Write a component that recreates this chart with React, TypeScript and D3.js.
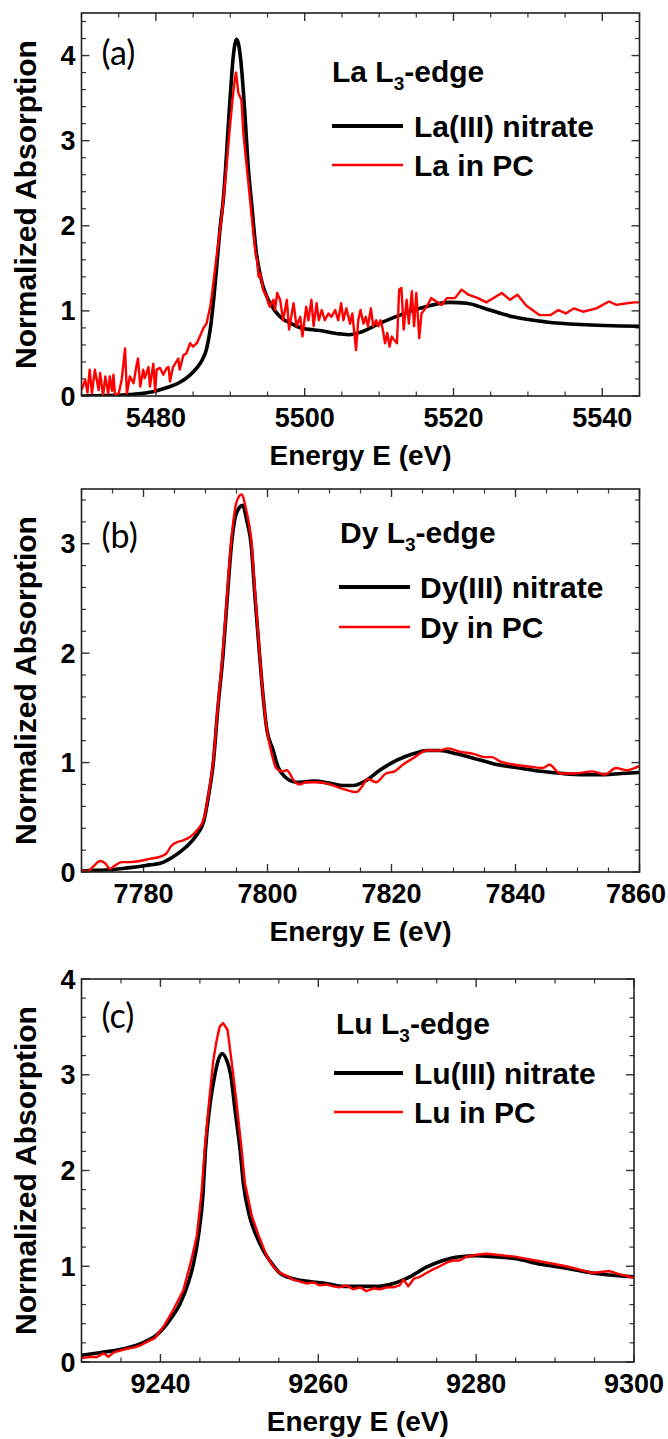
import * as d3 from "d3";

type Pt = [number, number];

// energies (eV) and normalized absorption
const laNitrate: Pt[] = [
  [5470, 0.0], [5473, 0.005], [5476, 0.015], [5478, 0.03], [5480, 0.06], [5481.5, 0.1], [5483, 0.15],
  [5484.5, 0.24], [5485.5, 0.33], [5486.2, 0.42], [5486.8, 0.55], [5487.3, 0.78], [5487.7, 1.08],
  [5488.2, 1.55], [5488.6, 1.95], [5489.06, 2.31], [5489.96, 3.48], [5490.4, 3.99], [5490.86, 4.19],
  [5491.4, 3.95], [5491.98, 3.29], [5492.4, 2.7], [5492.9, 2.23], [5493.45, 1.72], [5494.3, 1.32],
  [5495, 1.15], [5496, 1.0], [5497, 0.91], [5498, 0.86], [5499.5, 0.8], [5502, 0.77], [5504.7, 0.73],
  [5506, 0.72], [5507.5, 0.75], [5510, 0.85], [5512.8, 0.95], [5515.5, 1.03], [5519.5, 1.1],
  [5521.8, 1.09], [5524.5, 1.02], [5528, 0.93], [5532.5, 0.87], [5537, 0.84], [5545, 0.82],
];

const laPC: Pt[] = [
  [5470.0, 0.07], [5470.5, 0.19], [5470.8, 0.04], [5471.1, 0.31], [5471.4, 0.03], [5471.8, 0.31],
  [5472.3, 0.07], [5472.5, 0.27], [5472.9, 0.0], [5473.2, 0.23], [5473.6, 0.03], [5473.8, 0.23],
  [5474.1, 0.06], [5474.3, 0.25], [5474.5, 0.01], [5475.0, 0.03], [5475.4, 0.19], [5475.85, 0.56],
  [5476.1, 0.03], [5476.5, 0.23], [5477.0, 0.15], [5477.4, 0.36], [5477.6, 0.44], [5477.9, 0.11],
  [5478.3, 0.31], [5478.5, 0.21], [5479.0, 0.34], [5479.2, 0.11], [5479.65, 0.38], [5479.9, 0.05],
  [5480.1, 0.31], [5480.55, 0.33], [5481.0, 0.25], [5481.45, 0.33], [5481.7, 0.34], [5481.9, 0.17],
  [5482.3, 0.34], [5482.6, 0.38], [5483.0, 0.44], [5483.2, 0.31], [5483.7, 0.48], [5484.1, 0.5],
  [5484.6, 0.62], [5485.0, 0.58], [5485.5, 0.62], [5485.9, 0.7], [5486.4, 0.8], [5486.8, 0.85],
  [5487.05, 0.95], [5487.3, 1.05], [5487.5, 1.17], [5488.1, 1.6], [5488.85, 2.11], [5489.5, 2.7],
  [5489.96, 3.17], [5490.3, 3.48], [5490.6, 3.72], [5490.77, 3.8], [5491.08, 3.56], [5491.5, 3.48],
  [5491.75, 3.09], [5492.2, 2.7], [5492.65, 2.31], [5493.1, 1.91], [5493.45, 1.64], [5493.6, 1.6],
  [5493.8, 1.4], [5494.0, 1.44], [5494.2, 1.36], [5494.4, 1.25], [5494.9, 1.17], [5495.1, 1.09],
  [5495.3, 1.05], [5495.8, 1.13], [5496.0, 1.01], [5496.3, 1.21], [5496.7, 1.13], [5497.1, 0.89],
  [5497.6, 1.13], [5497.9, 0.78], [5498.5, 1.09], [5498.9, 0.82], [5499.4, 0.93], [5499.7, 0.7],
  [5500.2, 1.05], [5500.5, 0.89], [5500.9, 1.13], [5501.2, 0.82], [5501.6, 1.09], [5501.9, 0.89],
  [5502.3, 1.01], [5502.7, 0.89], [5503.2, 0.97], [5503.6, 0.93], [5504.1, 1.01], [5504.5, 0.89],
  [5504.9, 1.09], [5505.2, 0.89], [5505.6, 1.03], [5506.1, 0.85], [5506.4, 0.97], [5506.9, 0.54],
  [5507.2, 0.89], [5507.5, 1.01], [5507.9, 0.85], [5508.2, 0.93], [5508.5, 0.82], [5508.9, 1.03],
  [5509.2, 0.82], [5509.6, 0.89], [5509.9, 0.82], [5510.2, 0.89], [5510.5, 0.78], [5510.8, 0.62],
  [5511.1, 0.74], [5511.4, 0.58], [5511.7, 0.7], [5512.0, 0.66], [5512.4, 0.62], [5512.7, 1.25],
  [5513.0, 1.27], [5513.3, 0.78], [5513.7, 1.13], [5514.0, 0.85], [5514.4, 1.23], [5514.7, 0.82],
  [5515.0, 1.21], [5515.4, 0.68], [5515.7, 0.97], [5516.4, 1.05], [5517.0, 1.15], [5517.7, 1.11],
  [5518.4, 1.07], [5519.1, 1.15], [5520.2, 1.15], [5521.1, 1.25], [5522.0, 1.19], [5523.3, 1.15],
  [5524.4, 1.1], [5526.5, 1.21], [5527.6, 1.13], [5528.6, 1.19], [5529.8, 1.06], [5531.6, 0.95],
  [5533.0, 0.95], [5534.1, 1.01], [5535.1, 0.97], [5536.2, 1.03], [5537.4, 0.99], [5539.2, 1.03],
  [5540.9, 1.11], [5541.9, 1.07], [5543.3, 1.09], [5544.3, 1.1], [5545, 1.1],
];

const dyNitrate: Pt[] = [
  [7770, 0.01], [7772, 0.015], [7774.6, 0.02], [7777, 0.035], [7779.4, 0.05], [7781, 0.065],
  [7782.7, 0.08], [7784.8, 0.14], [7786.9, 0.23], [7788.6, 0.34], [7789.7, 0.46], [7790.5, 0.7],
  [7791.26, 1.0], [7792.0, 1.5], [7792.85, 2.0], [7793.5, 2.5], [7794.2, 3.0], [7795.0, 3.28],
  [7796.0, 3.35], [7796.7, 3.2], [7797.35, 3.0], [7798.0, 2.5], [7798.7, 2.0], [7799.3, 1.6],
  [7799.9, 1.3], [7800.9, 1.115], [7801.7, 0.96], [7802.8, 0.87], [7804.7, 0.82], [7807.4, 0.83],
  [7810.1, 0.81], [7812.2, 0.79], [7813.8, 0.79], [7816.0, 0.84], [7818.1, 0.93], [7820.8, 1.02],
  [7823.5, 1.08], [7825.7, 1.11], [7827.8, 1.11], [7830.5, 1.08], [7833.2, 1.04], [7836.4, 0.99],
  [7840.6, 0.95], [7844.1, 0.92], [7847.6, 0.9], [7851, 0.89], [7854.4, 0.89], [7857, 0.9], [7860, 0.91],
];

const dyPC: Pt[] = [
  [7770, 0.02], [7770.8, 0.0], [7771.9, 0.05], [7773, 0.1], [7773.8, 0.08], [7774.6, 0.03],
  [7775.4, 0.06], [7776.5, 0.09], [7777.8, 0.09], [7779.4, 0.1], [7781, 0.12], [7782.7, 0.14],
  [7783.7, 0.17], [7784.5, 0.24], [7785.3, 0.27], [7786.4, 0.29], [7787.5, 0.32], [7788.6, 0.38],
  [7789.7, 0.48], [7790.5, 0.72], [7791.26, 1.02], [7792.0, 1.52], [7792.85, 2.05], [7793.5, 2.55],
  [7794.2, 3.05], [7795.0, 3.38], [7795.8, 3.45], [7796.6, 3.3], [7797.35, 3.05], [7798.0, 2.55],
  [7798.7, 2.02], [7799.3, 1.6], [7799.9, 1.3], [7800.6, 1.1], [7801.4, 0.95], [7802.3, 0.92],
  [7803.1, 0.93], [7804.2, 0.84], [7805.1, 0.8], [7806.3, 0.82], [7807.9, 0.82], [7809.5, 0.81],
  [7811.1, 0.78], [7812.7, 0.75], [7814.3, 0.73], [7815.1, 0.77], [7816.2, 0.85], [7817.5, 0.82],
  [7819.1, 0.9], [7820.5, 0.92], [7821.8, 0.98], [7823.5, 1.04], [7825.7, 1.11], [7827.8, 1.11],
  [7829.1, 1.13], [7831.0, 1.1], [7833.2, 1.08], [7835.1, 1.05], [7836.2, 1.05], [7837.5, 1.01],
  [7839.9, 0.98], [7842.7, 0.96], [7844.4, 0.95], [7845.5, 0.98], [7847.2, 0.9], [7849.6, 0.9],
  [7852.4, 0.92], [7854.4, 0.89], [7856.2, 0.95], [7857.9, 0.93], [7860, 0.97],
];

const luNitrate: Pt[] = [
  [9230, 0.07], [9232.5, 0.1], [9234.9, 0.13], [9237.4, 0.19], [9239.5, 0.28], [9241.2, 0.44],
  [9242.5, 0.61], [9243.5, 0.82], [9244.2, 1.03], [9244.8, 1.31], [9245.4, 1.76], [9245.7, 2.21],
  [9246.3, 2.7], [9246.9, 3.0], [9247.4, 3.17], [9247.85, 3.22], [9248.4, 3.15], [9248.9, 3.0],
  [9249.5, 2.6], [9250.1, 2.21], [9250.5, 1.87], [9251.3, 1.52], [9252.2, 1.31], [9253.0, 1.17],
  [9254.1, 1.03], [9255.1, 0.93], [9256.8, 0.87], [9258.9, 0.84], [9261.0, 0.82], [9263.2, 0.79],
  [9265.3, 0.79], [9267.4, 0.79], [9269.5, 0.82], [9271.6, 0.89], [9273.7, 0.99], [9275.8, 1.06],
  [9277.9, 1.1], [9280.1, 1.11], [9282.2, 1.1], [9284.9, 1.08], [9288.2, 1.02], [9291.4, 0.98],
  [9294.7, 0.93], [9300, 0.89],
];

const luPC: Pt[] = [
  [9230, 0.04], [9231.1, 0.055], [9231.9, 0.05], [9232.8, 0.09], [9233.4, 0.055], [9234.1, 0.1],
  [9234.9, 0.12], [9235.8, 0.14], [9236.6, 0.15], [9237.4, 0.17], [9238.3, 0.21], [9239.3, 0.25],
  [9240.4, 0.37], [9241.6, 0.54], [9242.9, 0.75], [9243.9, 1.06], [9244.6, 1.31], [9245.2, 1.76],
  [9245.6, 2.21], [9246.2, 2.75], [9246.7, 3.15], [9247.1, 3.35], [9247.5, 3.5], [9247.95, 3.54],
  [9248.5, 3.47], [9249.0, 3.15], [9249.6, 2.74], [9250.3, 2.21], [9250.7, 1.87], [9251.6, 1.52],
  [9252.4, 1.33], [9253.5, 1.1], [9254.3, 1.0], [9255.1, 0.93], [9256.0, 0.9], [9256.8, 0.86],
  [9257.7, 0.84], [9258.5, 0.82], [9259.4, 0.83], [9260.2, 0.8], [9261.0, 0.81], [9261.9, 0.79],
  [9262.7, 0.78], [9263.6, 0.8], [9264.4, 0.76], [9265.3, 0.78], [9266.1, 0.74], [9267.0, 0.77],
  [9267.8, 0.76], [9268.7, 0.78], [9269.5, 0.78], [9270.3, 0.8], [9270.8, 0.86], [9271.4, 0.79],
  [9272.1, 0.87], [9272.9, 0.89], [9273.7, 0.93], [9274.6, 0.97], [9275.4, 1.0], [9276.3, 1.04],
  [9277.1, 1.06], [9277.9, 1.06], [9278.8, 1.1], [9280.1, 1.12], [9281.3, 1.13], [9282.6, 1.12],
  [9284.9, 1.1], [9288.2, 1.05], [9291.4, 1.0], [9294.7, 0.93], [9296.9, 0.95], [9298, 0.92], [9300, 0.88],
];

const laXTicks = [5480, 5500, 5520, 5540];
const dyXTicks = [7780, 7800, 7820, 7840, 7860];
const luXTicks = [9240, 9260, 9280, 9300];

const W = 668;
const H = 1439;
const BOLD = "'Liberation Sans', Arial, sans-serif";

interface PanelProps {
  id: string;
  label: string;
  element: string;
  black: Pt[];
  red: Pt[];
  redCurve: d3.CurveFactory;
  xDomain: [number, number];
  yMax: number;
  xTicks: number[];
  box: { left: number; right: number; top: number; bottom: number };
  labelY: number;
  title: { x: number; y: number };
  legend: { x0: number; x1: number; tx: number; y1: number; y2: number };
}

function Panel(p: PanelProps) {
  const { box } = p;
  const x = d3.scaleLinear().domain(p.xDomain).range([box.left, box.right]);
  const y = d3.scaleLinear().domain([0, p.yMax]).range([box.bottom, box.top]);

  const line = d3.line<Pt>().x((d) => x(d[0])).y((d) => y(d[1]));
  const blackPath = line.curve(d3.curveMonotoneX)(p.black) ?? "";
  const redPath = line.curve(p.redCurve)(p.red) ?? "";

  const xMinor = d3.range(p.xDomain[0], p.xDomain[1] + 0.01, 5).filter((v) => !p.xTicks.includes(v));
  const yMajor = d3.range(0, p.yMax + 0.001, 1);
  const yMinor = d3.range(0, p.yMax + 0.001, 0.2).filter((v) => Math.abs(v - Math.round(v)) > 0.01);

  const MAJ = 8;
  const MIN = 4.5;
  const tickStroke = "#333";

  return (
    <g>
      <defs>
        <clipPath id={`clip-${p.id}`}>
          <rect x={box.left} y={box.top} width={box.right - box.left} height={box.bottom - box.top} />
        </clipPath>
      </defs>

      {/* ticks point inward on all four sides */}
      {p.xTicks.map((t) => (
        <g key={`xm${t}`} stroke={tickStroke} strokeWidth={1.4}>
          <line x1={x(t)} x2={x(t)} y1={box.bottom} y2={box.bottom - MAJ} />
          <line x1={x(t)} x2={x(t)} y1={box.top} y2={box.top + MAJ} />
        </g>
      ))}
      {xMinor.map((t) => (
        <g key={`xn${t}`} stroke={tickStroke} strokeWidth={1.2}>
          <line x1={x(t)} x2={x(t)} y1={box.bottom} y2={box.bottom - MIN} />
          <line x1={x(t)} x2={x(t)} y1={box.top} y2={box.top + MIN} />
        </g>
      ))}
      {yMajor.map((t) => (
        <g key={`ym${t}`} stroke={tickStroke} strokeWidth={1.4}>
          <line x1={box.left} x2={box.left + MAJ} y1={y(t)} y2={y(t)} />
          <line x1={box.right} x2={box.right - MAJ} y1={y(t)} y2={y(t)} />
        </g>
      ))}
      {yMinor.map((t) => (
        <g key={`yn${t.toFixed(1)}`} stroke={tickStroke} strokeWidth={1.2}>
          <line x1={box.left} x2={box.left + MIN} y1={y(t)} y2={y(t)} />
          <line x1={box.right} x2={box.right - MIN} y1={y(t)} y2={y(t)} />
        </g>
      ))}

      <g clipPath={`url(#clip-${p.id})`}>
        <path d={blackPath} fill="none" stroke="#000" strokeWidth={3.6} strokeLinejoin="round" />
        <path d={redPath} fill="none" stroke="#ff0000" strokeWidth={2.4} strokeLinejoin="round" />
      </g>

      <rect x={box.left} y={box.top} width={box.right - box.left} height={box.bottom - box.top} fill="none" stroke="#222" strokeWidth={1.6} />

      {p.xTicks.map((t) => (
        <text
          key={`xl${t}`}
          x={Math.min(x(t), W - 32)}
          y={box.bottom + 31}
          textAnchor="middle"
          fontFamily={BOLD}
          fontWeight="bold"
          fontSize={27}
        >
          {t}
        </text>
      ))}
      {yMajor.map((t) => (
        <text key={`yl${t}`} x={box.left - 6} y={y(t) + 9.5} textAnchor="end" fontFamily={BOLD} fontWeight="bold" fontSize={27}>
          {t}
        </text>
      ))}

      <text x={(box.left + box.right) / 2} y={box.bottom + 69} textAnchor="middle" fontFamily={BOLD} fontWeight="bold" fontSize={28}>
        Energy E (eV)
      </text>
      <text
        transform={`translate(36,${(box.top + box.bottom) / 2}) rotate(-90)`}
        textAnchor="middle"
        fontFamily={BOLD}
        fontWeight="bold"
        fontSize={30}
      >
        Normalized Absorption
      </text>

      <text x={box.left + 20} y={p.labelY} fontFamily="Lato, 'Open Sans', sans-serif" fontSize={34}>
        {p.label}
      </text>

      <text x={p.title.x} y={p.title.y} fontFamily={BOLD} fontWeight="bold" fontSize={30}>
        {p.element} L
        <tspan fontSize={19} dy={8}>3</tspan>
        <tspan dy={-8}>-edge</tspan>
      </text>

      <line x1={p.legend.x0} x2={p.legend.x1} y1={p.legend.y1} y2={p.legend.y1} stroke="#000" strokeWidth={4} />
      <text x={p.legend.tx} y={p.legend.y1 + 11} fontFamily={BOLD} fontWeight="bold" fontSize={30}>
        {p.element}(III) nitrate
      </text>
      <line x1={p.legend.x0} x2={p.legend.x1} y1={p.legend.y2} y2={p.legend.y2} stroke="#ff0000" strokeWidth={2.6} />
      <text x={p.legend.tx} y={p.legend.y2 + 11} fontFamily={BOLD} fontWeight="bold" fontSize={30}>
        {p.element} in PC
      </text>
    </g>
  );
}

export default function App() {
  return (
    <svg width={W} height={H} style={{ position: "absolute", left: 0, top: 0, background: "#fff" }}>
      <rect width={W} height={H} fill="#fff" />
      <Panel
        id="a"
        label="(a)"
        element="La"
        black={laNitrate}
        red={laPC}
        redCurve={d3.curveLinear}
        xDomain={[5470, 5545]}
        yMax={4.5}
        xTicks={laXTicks}
        box={{ left: 81.5, right: 639.5, top: 13, bottom: 396 }}
        labelY={65}
        title={{ x: 332, y: 82 }}
        legend={{ x0: 332, x1: 403, tx: 414, y1: 126, y2: 165 }}
      />
      <Panel
        id="b"
        label="(b)"
        element="Dy"
        black={dyNitrate}
        red={dyPC}
        redCurve={d3.curveMonotoneX}
        xDomain={[7770, 7860]}
        yMax={3.5}
        xTicks={dyXTicks}
        box={{ left: 81.5, right: 639.5, top: 489, bottom: 872 }}
        labelY={548}
        title={{ x: 340, y: 543 }}
        legend={{ x0: 339, x1: 410, tx: 420, y1: 587, y2: 627 }}
      />
      <Panel
        id="c"
        label="(c)"
        element="Lu"
        black={luNitrate}
        red={luPC}
        redCurve={d3.curveLinear}
        xDomain={[9230, 9300]}
        yMax={4}
        xTicks={luXTicks}
        box={{ left: 81.5, right: 634, top: 979, bottom: 1362 }}
        labelY={1028}
        title={{ x: 336, y: 1034 }}
        legend={{ x0: 334, x1: 403, tx: 414, y1: 1073, y2: 1112 }}
      />
    </svg>
  );
}
